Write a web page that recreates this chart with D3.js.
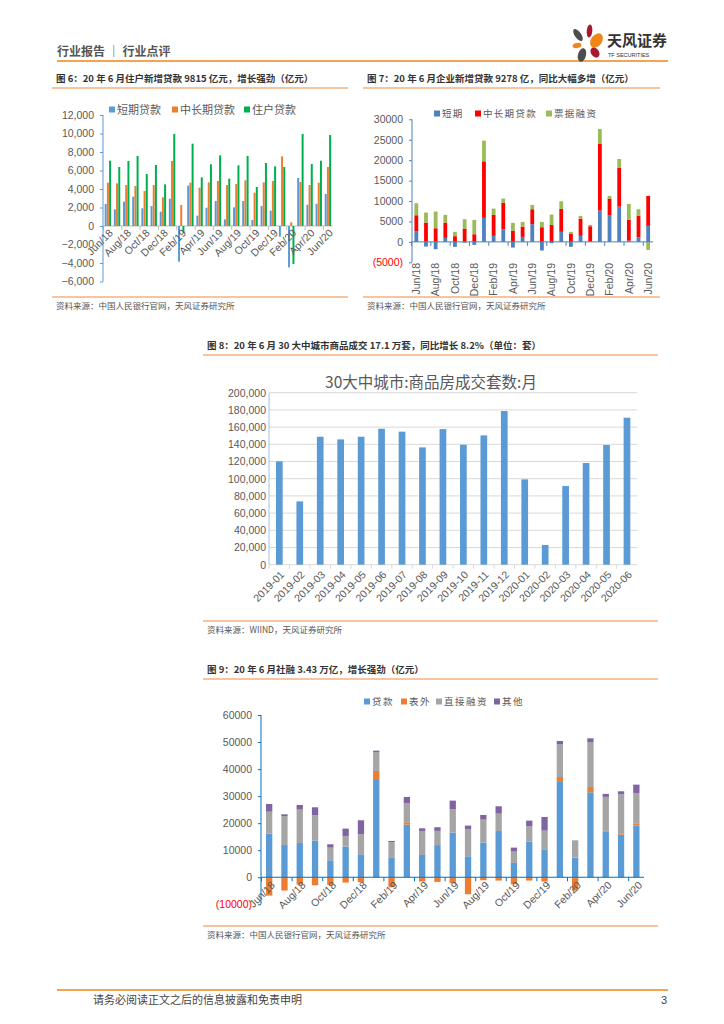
<!DOCTYPE html>
<html>
<head>
<meta charset="utf-8">
<script src="https://cdn.jsdelivr.net/npm/d3@7"></script>
<style>
body { margin: 0; background: #fff; }
svg { display: block; font-family: "Noto Sans CJK SC", "Noto Sans", sans-serif; }
</style>
</head>
<body>
<svg id="page" width="724" height="1024"></svg>
<script>
// month labels shared by charts 6, 7 and 9
var months = ["Jun/18","Jul/18","Aug/18","Sep/18","Oct/18","Nov/18","Dec/18","Jan/19","Feb/19","Mar/19","Apr/19","May/19",
  "Jun/19","Jul/19","Aug/19","Sep/19","Oct/19","Nov/19","Dec/19","Jan/20","Feb/20","Mar/20","Apr/20","May/20","Jun/20"];

// chart 6: household loans (亿元)
var hhShort = [2380,1800,2630,3170,1910,2160,1550,2955,-3860,4360,1120,1980,2700,720,2020,2700,650,2160,1660,-1150,-4470,5190,2300,2410,3460];
var hhMid   = [4685,4610,4430,4320,3780,4430,3100,7030,2270,4685,4150,4720,4870,4430,4540,4940,3600,4720,4870,7530,400,4750,4430,4680,6380];
var hhTotal = [7060,6380,7030,7570,5620,6600,4500,9950,-720,8900,5260,6670,7640,5120,6560,7570,4220,6810,6450,6380,-4100,9950,6700,7060,9840];
var hhTicks = [12000,10000,8000,6000,4000,2000,0,-2000,-4000,-6000];

// chart 7: enterprise loans (亿元)
var entShort = [2530,-1140,-1790,980,-1220,-200,-730,5870,1470,3100,-1390,1220,4320,-2120,-330,2450,-1220,1470,160,7660,6440,8640,300,1140,3910];
var entMid   = [3990,4730,3340,3750,1390,3260,1870,13850,5130,6520,2770,2530,3670,3590,4160,5620,2040,4230,3670,16300,4160,9450,5080,5300,7340];
var entBill  = [2930,2440,4080,1870,1060,2280,3510,5060,1550,980,1880,1140,1060,1300,2520,1870,410,660,330,3670,650,2200,3910,1550,-1960];
var entTicks = [30000,25000,20000,15000,10000,5000,0,-5000];

// chart 8: 30 city housing sales (套)
var cityMonths = ["2019-01","2019-02","2019-03","2019-04","2019-05","2019-06","2019-07","2019-08","2019-09","2019-10","2019-11","2019-12",
  "2020-01","2020-02","2020-03","2020-04","2020-05","2020-06"];
var citySales = [120200,73600,148800,145700,148800,158100,154700,136400,157700,139500,150400,178700,99200,22900,91500,118200,139200,170900];
var cityTicks = [0,20000,40000,60000,80000,100000,120000,140000,160000,180000,200000];

// chart 9: social financing (亿元)
var tsfLoan   = [16140,11950,12690,13550,6280,11330,8500,35970,7390,19470,8250,11900,16510,7760,12810,17120,5300,13180,10350,35240,7270,31420,17000,15770,19100];
var tsfOff    = [-6780,-4930,-2710,-2960,-2830,-1970,-1850,3330,-3700,860,-1600,-1720,-2220,-6280,-1110,-1230,-2590,-1230,-1600,1840,-4930,1970,150,250,860];
var tsfDirect = [8130,10600,12320,9370,4680,3950,7390,7020,5550,7140,8870,5250,8620,10100,8500,6410,4190,5670,6900,12080,6160,16630,12570,14660,11210];
var tsfOther  = [2830,730,1720,2950,1240,2710,5180,500,490,2220,990,1360,3210,1240,1730,2710,1470,2090,5050,1230,150,1350,1110,1110,3080];
var tsfTicks = [60000,50000,40000,30000,20000,10000,0,-10000];

var svg = d3.select("#page");
var gray = "#595959";
var numFont = "'Liberation Sans', Arial, sans-serif";
var softOrange = "#F4B183";

// ---------- page header / footer ----------
svg.append("text").attr("x", 57).attr("y", 56).attr("fill", "#555").style("font-size", "12px").style("font-weight", "bold")
  .text("行业报告 ｜ 行业点评");
svg.append("line").attr("x1", 57).attr("x2", 668).attr("y1", 61).attr("y2", 61).attr("stroke", "#F08519").attr("stroke-width", 1.6);

var logo = [
  {cx: 578, cy: 35, rx: 3.2, ry: 7, r: -35, c: "#4D4D4D"},
  {cx: 589.5, cy: 31, rx: 2.8, ry: 6.5, r: 5, c: "#A6192E"},
  {cx: 596.5, cy: 40.5, rx: 5.5, ry: 8, r: 35, c: "#F08519"},
  {cx: 577, cy: 45.5, rx: 4.5, ry: 2.6, r: -10, c: "#F08519"},
  {cx: 582, cy: 55, rx: 4, ry: 7, r: 15, c: "#4D4D4D"},
  {cx: 595, cy: 52.5, rx: 4, ry: 5.5, r: -35, c: "#A6192E"}
];
svg.append("g").selectAll("ellipse").data(logo).join("ellipse")
  .attr("transform", d => "translate(" + d.cx + "," + d.cy + ") rotate(" + d.r + ")")
  .attr("rx", d => d.rx).attr("ry", d => d.ry).attr("fill", d => d.c);
svg.append("text").attr("x", 607).attr("y", 46).attr("fill", "#333").style("font-size", "15px").style("font-weight", "bold").text("天风证券");
svg.append("text").attr("x", 608).attr("y", 57).attr("fill", "#333").style("font-size", "5.5px").style("font-family", numFont).text("TF SECURITIES");

svg.append("line").attr("x1", 57).attr("x2", 668).attr("y1", 990).attr("y2", 990).attr("stroke", "#F08519").attr("stroke-width", 1.6);
svg.append("text").attr("x", 93).attr("y", 1004).attr("fill", "#444").style("font-size", "11px").text("请务必阅读正文之后的信息披露和免责申明");
svg.append("text").attr("x", 667).attr("y", 1004).attr("text-anchor", "end").attr("fill", "#444").style("font-size", "11px").style("font-family", numFont).text("3");

// ---------- helpers ----------
function frame(x1, x2, yTitle, yTop, yBottom, title, source) {
  svg.append("text").attr("x", x1 + 4).attr("y", yTitle).attr("fill", "#333").style("font-size", "9.5px").style("font-weight", "bold").text(title);
  svg.append("line").attr("x1", x1).attr("x2", x2).attr("y1", yTop).attr("y2", yTop).attr("stroke", softOrange).attr("stroke-width", 1.5);
  svg.append("line").attr("x1", x1).attr("x2", x2).attr("y1", yBottom).attr("y2", yBottom).attr("stroke", softOrange).attr("stroke-width", 1.5);
  svg.append("text").attr("x", x1 + 4).attr("y", yBottom + 11.5).attr("fill", "#555").style("font-size", "8.5px").text(source);
}

function yAxis(y, x, ticks, fmt, lineColor, tick, fs) {
  var g = svg.append("g").attr("transform", "translate(" + x + ",0)")
    .call(d3.axisLeft(y).tickValues(ticks).tickFormat(fmt).tickSize(tick).tickPadding(tick + 3));
  g.select(".domain").attr("stroke", lineColor).attr("d", "M0," + y.range()[0] + "V" + y.range()[1]);
  g.selectAll(".tick line").attr("stroke", lineColor);
  g.selectAll(".tick text").attr("fill", gray).style("font-size", fs + "px").style("font-family", numFont);
  return g;
}

function xLine(x, y0, color, every) {
  var r = x.range();
  svg.append("line").attr("x1", r[0]).attr("x2", r[1]).attr("y1", y0).attr("y2", y0).attr("stroke", color).attr("stroke-width", 1);
  svg.append("g").selectAll("line").data(x.domain().filter((d, i) => i % every === 0)).join("line")
    .attr("x1", d => x(d)).attr("x2", d => x(d)).attr("y1", y0).attr("y2", y0 + 4).attr("stroke", color);
}

function xLabels(x, cats, every, yPos, rot, dx, fs) {
  svg.append("g").selectAll("text").data(cats.filter((d, i) => i % every === 0)).join("text")
    .attr("transform", d => "translate(" + (x(d) + x.bandwidth() / 2 + dx) + "," + yPos + ") rotate(" + rot + ")")
    .attr("text-anchor", "end").attr("dy", "0.35em")
    .attr("fill", gray).style("font-size", fs + "px").style("font-family", numFont).text(d => d);
}

function legend(items, y, fs, spacing) {
  var g = svg.append("g");
  items.forEach(function (it) {
    g.append("rect").attr("x", it.x).attr("y", y - 3.5).attr("width", 6).attr("height", 6).attr("fill", it.c);
    g.append("text").attr("x", it.x + 8).attr("y", y).attr("dy", "0.35em").attr("fill", gray)
      .style("font-size", fs + "px").style("letter-spacing", spacing + "px").text(it.t);
  });
}

function rows(keys, arrays) {
  return months.map(function (m, i) {
    var o = {month: m};
    keys.forEach(function (k, j) { o[k] = arrays[j][i]; });
    return o;
  });
}

var comma = d3.format(",");

// ---------- chart 6 ----------
frame(52, 348, 82, 88, 297, "图 6：20 年 6 月住户新增贷款 9815 亿元，增长强劲（亿元）", "资料来源：中国人民银行官网，天风证券研究所");
(function () {
  var x = d3.scaleBand().domain(months).range([103.4, 332.6]);
  var y = d3.scaleLinear().domain([-6000, 12000]).range([281.5, 115]);
  var keys = ["short", "mid", "total"];
  var colors = {short: "#5B9BD5", mid: "#ED7D31", total: "#00B050"};
  var sub = d3.scaleBand().domain(keys).range([0, 6.6]);
  var data = rows(keys, [hhShort, hhMid, hhTotal]);

  xLine(x, y(0), "#BFBFBF", 2);
  var g = svg.append("g");
  keys.forEach(function (k) {
    g.append("g").selectAll("rect").data(data).join("rect")
      .attr("x", d => x(d.month) + (x.bandwidth() - 6.6) / 2 + sub(k))
      .attr("width", sub.bandwidth() - 0.2)
      .attr("y", d => y(Math.max(0, d[k])))
      .attr("height", d => Math.abs(y(d[k]) - y(0)))
      .attr("fill", colors[k]);
  });
  yAxis(y, 103, hhTicks, comma, "#5B9BD5", 3, 10.5);
  xLabels(x, months, 2, y(0) + 5, -45, 3, 10.5);
  legend([{x: 109, t: "短期贷款", c: colors.short}, {x: 172, t: "中长期贷款", c: colors.mid}, {x: 244, t: "住户贷款", c: colors.total}], 110, 11, 0);
})();

// ---------- chart 7 ----------
frame(363, 660, 82, 88, 297, "图 7：20 年 6 月企业新增贷款 9278 亿，同比大幅多增（亿元）", "资料来源：中国人民银行官网，天风证券研究所");
(function () {
  var x = d3.scaleBand().domain(months).range([411.5, 653]);
  var y = d3.scaleLinear().domain([-5000, 30000]).range([262.3, 119.3]);
  var keys = ["short", "mid", "bill"];
  var colors = {short: "#4F81BD", mid: "#FF0000", bill: "#9BBB59"};
  var data = rows(keys, [entShort, entMid, entBill]);
  var series = d3.stack().keys(keys).offset(d3.stackOffsetDiverging)(data);
  var bw = 3.8;

  svg.append("g").selectAll("g").data(series).join("g").attr("fill", s => colors[s.key])
    .selectAll("rect").data(s => s).join("rect")
    .attr("x", d => x(d.data.month) + (x.bandwidth() - bw) / 2)
    .attr("width", bw)
    .attr("y", d => y(d[1]))
    .attr("height", d => y(d[0]) - y(d[1]));
  xLine(x, y(0), "#4F81BD", 2);
  var ax = yAxis(y, 412, entTicks, d => d < 0 ? "(" + Math.abs(d) + ")" : d, "#4F81BD", 3, 10.5);
  ax.selectAll(".tick text").filter(d => d < 0).attr("fill", "#FF0000");
  xLabels(x, months, 2, 263, -90, 0, 10.5);
  legend([{x: 434, t: "短期", c: colors.short}, {x: 475, t: "中长期贷款", c: colors.mid}, {x: 546, t: "票据融资", c: colors.bill}], 114, 9.5, 1.3);
})();

// ---------- chart 8 ----------
frame(203, 658, 349, 355, 621, "图 8：20 年 6 月 30 大中城市商品成交 17.1 万套，同比增长 8.2%（单位：套）", "资料来源：WIIND，天风证券研究所");
(function () {
  var x = d3.scaleBand().domain(cityMonths).range([269.1, 637.2]);
  var y = d3.scaleLinear().domain([0, 200000]).range([564.7, 392.7]);
  var bw = 6.7;

  svg.append("text").attr("x", 431).attr("y", 383).attr("dy", "0.35em").attr("text-anchor", "middle")
    .attr("fill", gray).style("font-size", "15.5px").text("30大中城市:商品房成交套数:月");
  svg.append("g").selectAll("line").data(cityTicks.slice(1)).join("line")
    .attr("x1", 269).attr("x2", 637.2).attr("y1", d => y(d)).attr("y2", d => y(d))
    .attr("stroke", "#D9D9D9").attr("stroke-width", 1);
  xLine(x, y(0), "#D9D9D9", 1);
  svg.append("g").selectAll("rect").data(cityMonths).join("rect")
    .attr("x", d => x(d) + (x.bandwidth() - bw) / 2)
    .attr("width", bw)
    .attr("y", (d, i) => y(citySales[i]))
    .attr("height", (d, i) => y(0) - y(citySales[i]))
    .attr("fill", "#5B9BD5");
  yAxis(y, 269, cityTicks, comma, "#9DC3E6", 0, 10.5);
  xLabels(x, cityMonths, 1, y(0) + 8, -45, 3, 10.5);
})();

// ---------- chart 9 ----------
frame(203, 658, 673, 679, 926, "图 9：20 年 6 月社融 3.43 万亿，增长强劲（亿元）", "资料来源：中国人民银行官网，天风证券研究所");
(function () {
  var x = d3.scaleBand().domain(months).range([261.5, 644]);
  var y = d3.scaleLinear().domain([-10000, 60000]).range([904.3, 715]);
  var keys = ["loan", "off", "direct", "other"];
  var colors = {loan: "#5B9BD5", off: "#ED7D31", direct: "#A5A5A5", other: "#8064A2"};
  var data = rows(keys, [tsfLoan, tsfOff, tsfDirect, tsfOther]);
  var series = d3.stack().keys(keys).offset(d3.stackOffsetDiverging)(data);
  var bw = 6.3;

  svg.append("g").selectAll("g").data(series).join("g").attr("fill", s => colors[s.key])
    .selectAll("rect").data(s => s).join("rect")
    .attr("x", d => x(d.data.month) + (x.bandwidth() - bw) / 2)
    .attr("width", bw)
    .attr("y", d => y(d[1]))
    .attr("height", d => y(d[0]) - y(d[1]));
  xLine(x, y(0), "#0070C0", 2);
  var ax = yAxis(y, 261, tsfTicks, d => d < 0 ? "(" + Math.abs(d) + ")" : d, "#0070C0", 3, 10.5);
  ax.selectAll(".tick text").filter(d => d < 0).attr("fill", "#FF0000");
  xLabels(x, months, 2, y(0) + 6, -45, 4, 10.5);
  legend([{x: 364, t: "贷款", c: colors.loan}, {x: 401, t: "表外", c: colors.off}, {x: 436, t: "直接融资", c: colors.direct}, {x: 494, t: "其他", c: colors.other}], 702, 9.5, 1.5);
})();
</script>
</body>
</html>
